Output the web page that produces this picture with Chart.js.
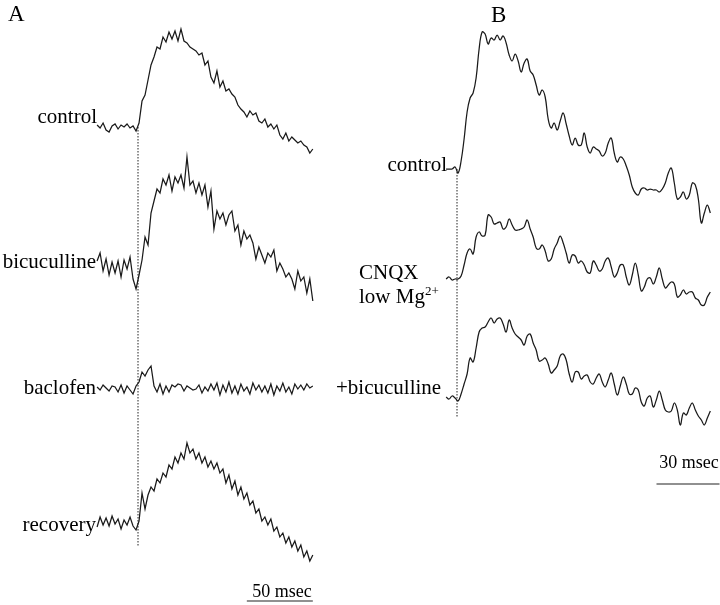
<!DOCTYPE html>
<html>
<head>
<meta charset="utf-8">
<title>Evoked responses</title>
<script src="https://cdn.jsdelivr.net/npm/chart.js@4.4.1/dist/chart.umd.min.js"></script>
<style>
  html, body { margin: 0; padding: 0; background: #fff; }
  #wrap { position: relative; width: 720px; height: 605px; overflow: hidden; }
  #traces { position: absolute; left: 0; top: 0; }
  .lbl { position: absolute; font-family: 'Liberation Serif', 'Times New Roman', serif;
         font-size: 21px; line-height: 21px; color: #000; white-space: nowrap; }
  .r { transform: translateX(-100%); }
  .c { transform: translateX(-50%); }
  .panel { font-size: 23px; line-height: 23px; }
  .bar { font-size: 18px; line-height: 18px; }
  sup { font-size: 13px; vertical-align: 8px; line-height: 0; }
</style>
</head>
<body>
<div id="wrap">
  <canvas id="traces" width="720" height="605"></canvas>

  <div class="lbl panel" style="left:8px; top:2px;">A</div>
  <div class="lbl panel" style="left:491px; top:3px;">B</div>

  <div class="lbl r" style="left:97px; top:106px;">control</div>
  <div class="lbl r" style="left:96px; top:251px;">bicuculline</div>
  <div class="lbl r" style="left:96px; top:377px;">baclofen</div>
  <div class="lbl r" style="left:96px; top:514px;">recovery</div>

  <div class="lbl r" style="left:447px; top:154px;">control</div>
  <div class="lbl" style="left:359px; top:262px;">CNQX</div>
  <div class="lbl" style="left:359px; top:286px;">low Mg<sup>2+</sup></div>
  <div class="lbl" style="left:336px; top:377px;">+bicuculline</div>

  <div class="lbl bar c" style="left:282px; top:582px;">50 msec</div>
  <div class="lbl bar c" style="left:689px; top:453px;">30 msec</div>
</div>

<script>
// Panel A sweeps: one sample every A_DT msec, starting at A_T0 (stimulus at 0)
const A_T0 = -31.0;
const A_DT = 2.27;
// amplitudes relative to each sweep's own baseline (arbitrary units, up = depolarising)
const A_control = [
  2, -1, 4, -3, -5, 1, 3, -2, 2, 0, 3, -1, 1, -4,
  4, 26, 32, 47, 62, 70, 80, 78, 90, 85, 95, 88, 96, 86,
  98, 86, 84, 80, 78, 76, 72, 74, 62, 66,
  50, 44, 56, 40, 46, 36, 38, 33, 30, 22,
  18, 15, 10, 16, 12, 14, 6, 4, 8, 0,
  3, -2, 2, -8, -12, -6, -14, -10, -13, -16,
  -14, -18, -20, -26, -22
];
const A_bicuculline = [
  4, 12, -6, 6, -10, 3, -8, 4, -12, 5, -4, 8, -14, -24,
  -10, 5, 28, 20, 52, 64, 76, 72, 86, 80, 90, 74, 88, 82,
  90, 77, 108, 80, 84, 72, 82, 70, 80, 58,
  74, 36, 54, 46, 52, 40, 50, 54, 34, 40,
  20, 34, 26, 30, 22, 6, 18, 10, 2, 12,
  8, 15, -6, 2, -4, -12, -8, -14, -24, -6,
  -16, -12, -28, -14, -36
];
const A_baclofen = [
  1, -2, 3, 0, -3, 2, 1, -4, 3, -5, 2, -2, -6, 2,
  6, 16, 12, 18, 22, 2, -4, 4, -6, 2, -4, 3, 1, 4,
  3, -3, 2, 0, -2, -1, 3, -5, 1, -3,
  4, -2, 5, -7, 3, -4, 6, -5, 2, -6,
  4, -3, 1, -6, 5, -2, 3, -4, 2, -5,
  4, -7, 2, -3, 5, -4, 1, -6, 4, -1,
  3, -2, 4, 0, 2
];
const A_recovery = [
  -4, 6, -2, 5, -3, 7, -1, 4, -6, 3, -2, 6, -3, -7,
  2, 30, 14, 28, 36, 32, 44, 40, 50, 46, 58, 54, 66, 60,
  70, 64, 80, 70, 74, 64, 70, 60, 66, 56,
  62, 54, 60, 50, 54, 40, 48, 34, 42, 28,
  36, 24, 30, 18, 22, 10, 14, 2, 6, -2,
  4, -8, -4, -14, -10, -20, -14, -24, -18, -28,
  -22, -34, -28, -38, -32
];

// Panel B sweeps
const B_T0 = -5.2;
const B_DT = 1.43;
const B_control = [
  0, 0, 0, 2, -4, 8, 30, 57, 71, 76,
  91, 120, 137, 135, 125, 131, 129, 134, 129, 133,
  126, 114, 108, 115, 108, 97, 106, 110, 98, 94,
  84, 74, 79, 72, 50, 41, 46, 39, 48, 56,
  45, 33, 24, 31, 24, 24, 36, 22, 16, 22,
  20, 18, 13, 16, 26, 31, 16, 7, 12, 10,
  3, -6, -18, -24, -26, -20, -19, -21, -20, -21,
  -21, -23, -20, -14, -4, 1, -14, -30, -28, -23,
  -30, -26, -14, -16, -30, -54, -44, -36, -44
];
const B_cnqx = [
  0, 2, -1, 0, 0, 3, 14, 26, 30, 25,
  42, 47, 43, 44, 64, 62, 55, 56, 57, 50,
  52, 60, 54, 49, 49, 50, 52, 59, 50, 42,
  31, 30, 34, 28, 18, 20, 30, 36, 43, 36,
  26, 16, 24, 23, 16, 18, 14, 7, 6, 18,
  14, 8, 10, 18, 21, 12, 2, 6, 14, 14,
  2, -6, 4, 16, 4, -12, -8, 0, 1, -5,
  2, 11, 0, -9, -6, -3, -5, -18, -16, -11,
  -15, -13, -13, -19, -21, -26, -26, -18, -13
];
const B_bicuculline = [
  1, -1, 2, 0, -3, 4, 14, 24, 40, 36,
  50, 66, 70, 71, 76, 80, 75, 79, 80, 74,
  66, 78, 70, 64, 61, 58, 53, 62, 64, 55,
  48, 37, 38, 40, 34, 25, 28, 32, 42, 44,
  38, 24, 16, 26, 26, 19, 22, 23, 16, 14,
  20, 24, 16, 11, 18, 25, 14, 3, 12, 21,
  14, 4, 4, 10, 8, -4, -8, 0, 2, -9,
  -2, 7, -2, -12, -14, -13, -5, -12, -27, -15,
  -17, -10, -5, -12, -18, -22, -27, -20, -13
];

const scaleBarA = 50; // msec
const scaleBarB = 30; // msec

// ---- layout (where each sweep sits on the page) ----
const H = 605;
const pxPerMsA = 1.32, stimPxA = 138;
const pxPerMsB = 2.1, stimPxB = 457;
const baseA = { control: H - 127, bicuculline: H - 265, baclofen: H - 388, recovery: H - 523 };
const baseB = { control: H - 169, cnqx: H - 279, bicuculline: H - 398 };

function sweep(values, t0, dt, base) {
  return values.map((v, i) => ({ x: t0 + i * dt, y: base + v }));
}

const ink = '#1a1a1a';
function trace(data, axis, tension) {
  return { data: data, xAxisID: axis, borderColor: ink, borderWidth: 1.25,
           pointRadius: 0, tension: tension, fill: false };
}

const aEnd = A_T0 + (A_control.length - 1) * A_DT;
const datasets = [
  trace(sweep(A_control, A_T0, A_DT, baseA.control), 'xA', 0),
  trace(sweep(A_bicuculline, A_T0, A_DT, baseA.bicuculline), 'xA', 0),
  trace(sweep(A_baclofen, A_T0, A_DT, baseA.baclofen), 'xA', 0),
  trace(sweep(A_recovery, A_T0, A_DT, baseA.recovery), 'xA', 0),
  trace(sweep(B_control, B_T0, B_DT, baseB.control), 'xB', 0.4),
  trace(sweep(B_cnqx, B_T0, B_DT, baseB.cnqx), 'xB', 0.4),
  trace(sweep(B_bicuculline, B_T0, B_DT, baseB.bicuculline), 'xB', 0.4),
  // stimulus markers
  { data: [{x: 0, y: baseA.control}, {x: 0, y: baseA.recovery - 24}], xAxisID: 'xA',
    borderColor: '#222', borderWidth: 1, borderDash: [1.5, 1.5], pointRadius: 0 },
  { data: [{x: 0, y: baseB.control}, {x: 0, y: baseB.bicuculline - 19}], xAxisID: 'xB',
    borderColor: '#222', borderWidth: 1, borderDash: [1.5, 1.5], pointRadius: 0 },
  // scale bars
  { data: [{x: aEnd - scaleBarA, y: 4}, {x: aEnd, y: 4}], xAxisID: 'xA',
    borderColor: '#222', borderWidth: 1.2, pointRadius: 0 },
  { data: [{x: 125 - scaleBarB, y: 121}, {x: 125, y: 121}], xAxisID: 'xB',
    borderColor: '#222', borderWidth: 1.2, pointRadius: 0 }
];

new Chart(document.getElementById('traces'), {
  type: 'line',
  data: { datasets: datasets },
  options: {
    responsive: false,
    animation: false,
    layout: { padding: 0 },
    plugins: { legend: { display: false }, tooltip: { enabled: false } },
    scales: {
      xA: { type: 'linear', axis: 'x', display: false,
            min: -stimPxA / pxPerMsA, max: (720 - stimPxA) / pxPerMsA },
      xB: { type: 'linear', axis: 'x', display: false,
            min: -stimPxB / pxPerMsB, max: (720 - stimPxB) / pxPerMsB },
      y: { type: 'linear', display: false, min: 0, max: H }
    }
  }
});
</script>
</body>
</html>
